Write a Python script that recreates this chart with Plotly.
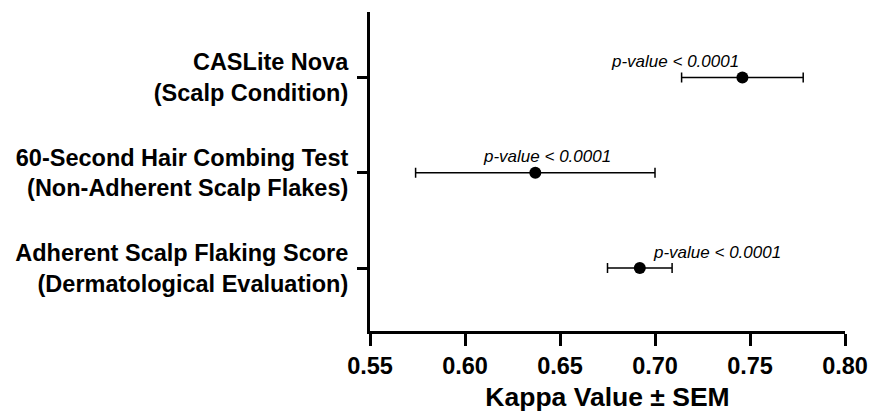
import plotly.graph_objects as go

# Data (bottom to top on the y axis)
categories = [
    "Adherent Scalp Flaking Score<br>(Dermatological Evaluation)",
    "60-Second Hair Combing Test<br>(Non-Adherent Scalp Flakes)",
    "CASLite Nova<br>(Scalp Condition)",
]
kappa = [0.692, 0.637, 0.746]
sem = [0.017, 0.063, 0.032]
p_labels = ["p-value < 0.0001", "p-value < 0.0001", "p-value < 0.0001"]
x_ticks = [0.55, 0.60, 0.65, 0.70, 0.75, 0.80]

FONT = "Liberation Sans, Arial, Helvetica, sans-serif"

fig = go.Figure()
fig.add_trace(go.Scatter(
    x=kappa, y=categories, mode="markers",
    marker=dict(size=12, color="black"),
    error_x=dict(type="data", array=sem, visible=True, color="black",
                 thickness=1.5, width=5),
    showlegend=False,
))

# p-value annotations
anchors = [("left", 11), ("center", 12), ("right", -1)]
for xv, cat, txt, (xa, xs) in zip(kappa, categories, p_labels, anchors):
    fig.add_annotation(
        x=xv, y=cat, text=txt, showarrow=False,
        xanchor=xa, yanchor="middle", xshift=xs, yshift=16,
        font=dict(family=FONT, size=17, color="black", style="italic"),
    )

fig.update_layout(
    width=874, height=414,
    margin=dict(l=370, r=29, t=12, b=83),
    plot_bgcolor="white", paper_bgcolor="white",
    font=dict(family=FONT, color="black"),
    xaxis=dict(
        range=[0.55, 0.80], tickvals=x_ticks,
        ticktext=[f"{v:.2f}" for v in x_ticks],
        showline=True, linecolor="black", linewidth=3,
        ticks="outside", ticklen=12, tickwidth=3, tickcolor="black",
        showgrid=False, zeroline=False, automargin=False,
        tickfont=dict(family=FONT, size=23.5, weight="bold", color="black"),
        title=dict(text="Kappa Value ± SEM", standoff=10,
                   font=dict(family=FONT, size=26.5, weight="bold", color="black")),
    ),
    yaxis=dict(
        type="category", categoryorder="array", categoryarray=categories,
        range=[-0.66, 2.687],
        showline=True, linecolor="black", linewidth=3,
        ticks="outside", ticklen=10, tickwidth=3, tickcolor="black",
        showgrid=False, zeroline=False, automargin=False,
        tickfont=dict(family=FONT, size=23.5, weight="bold", color="black"),
        ticklabelstandoff=4,
    ),
)

fig.write_html("out.html")
